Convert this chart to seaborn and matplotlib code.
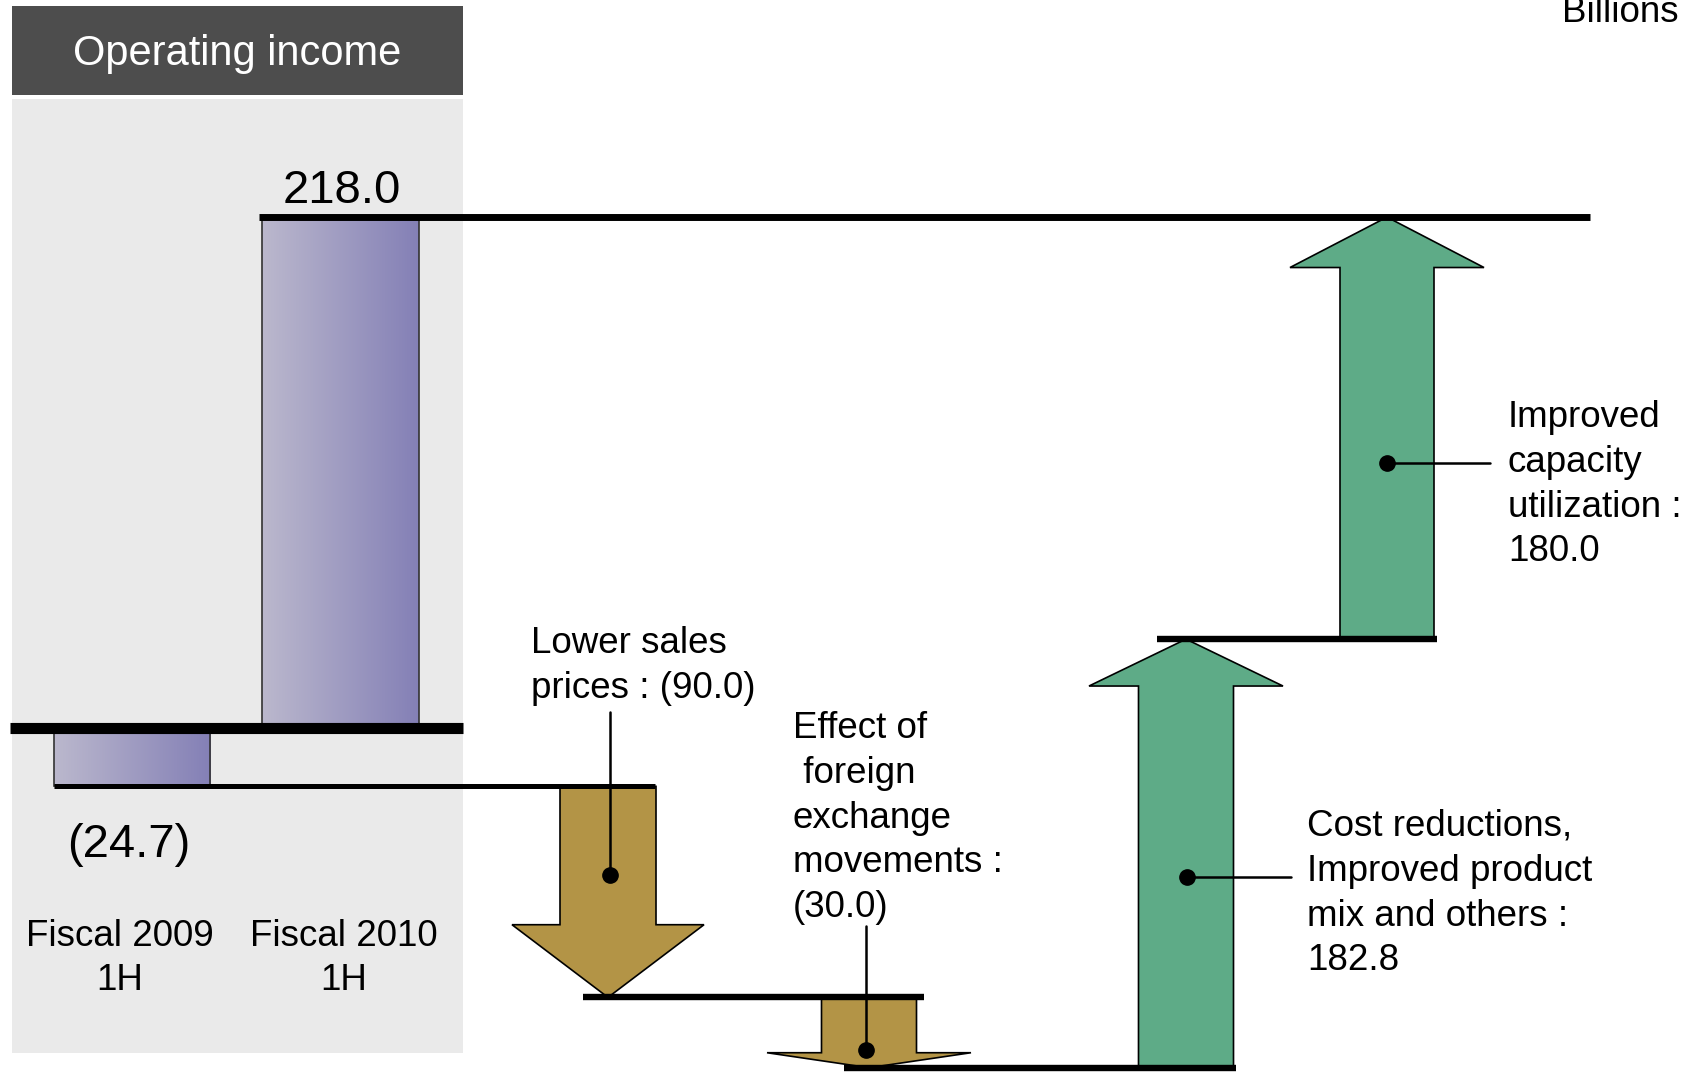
import numpy as np
import matplotlib
matplotlib.use("Agg")
import matplotlib.pyplot as plt
from matplotlib.colors import LinearSegmentedColormap
from matplotlib.patches import Rectangle, Polygon
import seaborn as sns

# --- data ---
periods = ["Fiscal 2009", "Fiscal 2010"]
period_sub = ["1H", "1H"]
income = [-24.7, 218.0]

factor_lines = [
    ["Lower sales", "prices :"],
    ["Effect of", " foreign", "exchange", "movements :"],
    ["Cost reductions,", "Improved product", "mix and others :"],
    ["Improved", "capacity", "utilization :"],
]
factor_inline = [True, False, False, False]
impacts = [-90.0, -30.0, 182.8, 180.0]

title = "Operating income"
unit = "Billions"

# --- layout (pixels on the 1690x1075 canvas) ---
W, H = 1690, 1075
bar_x = [132, 340.5]
arrow_x = [608, 869, 1186, 1387]
shaft_hw = [48, 47.5, 47.5, 47]
head_hw = [96, 102, 97, 97]
head_len = [31, 6.4, 20, 21.5]          # value units
level_spans = [(54, 655), (583, 924), (844, 1236), (1157, 1437)]
label_pos = [(531, 653), (793, 738), (1307, 836), (1508, 427)]
leaders = [(610, 875, 610, 712), (866, 1050, 866, 926),
           (1187, 877, 1291, 877), (1387, 463, 1490, 463)]
LINE_STEP = 44.8

BAR_LEFT, BAR_RIGHT = "#BBB8CD", "#8480B6"
DOWN_C, UP_C = "#B39446", "#5EAB87"


def fmt(v):
    return f"({abs(v):.1f})" if v < 0 else f"{v:.1f}"


def fy(px):
    return 1 - px / H


sns.set_theme(style="white")
plt.rcParams["font.family"] = ["Liberation Sans", "DejaVu Sans"]
plt.rcParams["text.color"] = "black"

fig = plt.figure(figsize=(W / 100, H / 100), dpi=100)
ax = fig.add_axes([0, 0, 1, 1])
trans = ax.get_xaxis_transform()

# bars (gradient fill clipped to the seaborn bars)
sns.barplot(x=bar_x, y=income, native_scale=True, orient="x", width=0.75,
            color=BAR_LEFT, errorbar=None, ax=ax)
cmap = LinearSegmentedColormap.from_list("bar", [BAR_LEFT, BAR_RIGHT])
grad = np.linspace(0, 1, 256).reshape(1, -1)
for p in list(ax.patches):
    x0, w = p.get_x(), p.get_width()
    y0, h = p.get_y(), p.get_height()
    im = ax.imshow(grad, extent=[x0, x0 + w, y0, y0 + h], aspect="auto",
                   cmap=cmap, zorder=2, interpolation="bilinear")
    im.set_clip_path(p)
    p.set_facecolor("none")
    p.set_edgecolor("#333333")
    p.set_linewidth(1.2)
    p.set_zorder(3)

# panel and title box
ax.add_patch(Rectangle((12, fy(1053)), 451, (1053 - 99) / H, transform=trans,
                       facecolor="#EAEAEA", edgecolor="none", zorder=0))
ax.add_patch(Rectangle((12, fy(95)), 451, 89 / H, transform=trans,
                       facecolor="#4D4D4D", edgecolor="none", zorder=1))
ax.text(237.5, fy(65), title, transform=trans, ha="center", va="baseline",
        color="white", fontsize=30, zorder=6)

# step lines
levels = income[0] + np.cumsum(impacts)
ax.plot([10, 463], [0, 0], color="black", lw=8, solid_capstyle="butt", zorder=4)
ax.plot([259, 1590], [income[1]] * 2, color="black", lw=5,
        solid_capstyle="butt", zorder=4)
starts = [income[0]] + list(levels[:-1])
for (xa, xb), lev in zip(level_spans, starts):
    lw = 3.6 if lev == income[0] else 4.6
    ax.plot([xa, xb], [lev, lev], color="black", lw=lw,
            solid_capstyle="butt", zorder=4)

# arrows
for xc, v0, dv, sw, hw, hl in zip(arrow_x, starts, impacts, shaft_hw,
                                  head_hw, head_len):
    v1 = v0 + dv
    s = 1 if dv > 0 else -1
    vb = v1 - s * hl
    pts = [(xc - sw, v0), (xc - sw, vb), (xc - hw, vb), (xc, v1),
           (xc + hw, vb), (xc + sw, vb), (xc + sw, v0)]
    ax.add_patch(Polygon(pts, closed=True, facecolor=UP_C if s > 0 else DOWN_C,
                         edgecolor="black", lw=1.2, zorder=3))

# leader lines and dots
for dx, dpy, ex, epy in leaders:
    ax.plot([dx, ex], [fy(dpy), fy(epy)], color="black", lw=1.8,
            transform=trans, zorder=5)
    ax.plot([dx], [fy(dpy)], marker="o", ms=11, color="black",
            transform=trans, zorder=5)

# factor labels
for lines, inline, v, (lx, by) in zip(factor_lines, factor_inline, impacts,
                                      label_pos):
    lines = list(lines)
    if inline:
        lines[-1] = lines[-1] + " " + fmt(v)
    else:
        lines.append(fmt(v))
    for i, s in enumerate(lines):
        ax.text(lx, fy(by + i * LINE_STEP), s, transform=trans, ha="left",
                va="baseline", fontsize=26.5, color="black", zorder=6)

# value labels and period labels
ax.text(342, fy(203), fmt(income[1]), transform=trans, ha="center",
        va="baseline", fontsize=34, color="black", zorder=6)
ax.text(129, fy(857), fmt(income[0]), transform=trans, ha="center",
        va="baseline", fontsize=34, color="black", zorder=6)
for cx, name, sub in zip([120, 344], periods, period_sub):
    ax.text(cx, fy(946), name, transform=trans, ha="center", va="baseline",
            fontsize=26.5, color="black", zorder=6)
    ax.text(cx, fy(990), sub, transform=trans, ha="center", va="baseline",
            fontsize=26.5, color="black", zorder=6)

ax.text(1562, fy(22), unit, transform=trans, ha="left", va="baseline",
        fontsize=26.5, color="black", zorder=6)

ax.set_xlim(0, W)
ax.set_ylim(-147.8, 310.7)
ax.axis("off")

fig.savefig("out.png", dpi=100)
